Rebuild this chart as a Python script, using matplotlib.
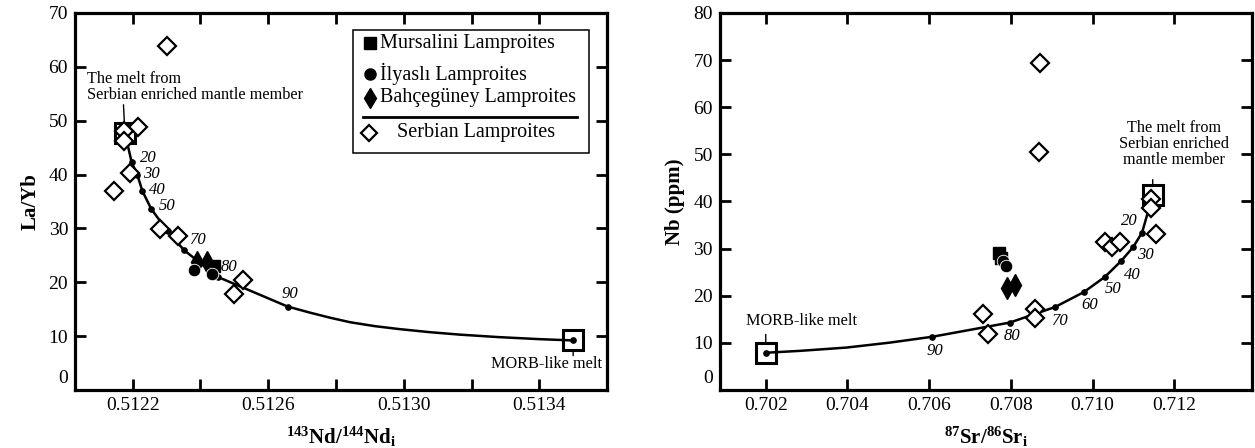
import numpy as np
import matplotlib.pyplot as plt
from matplotlib.patches import Rectangle
from matplotlib.transforms import ScaledTranslation

plt.rcParams['font.family'] = ['Liberation Serif', 'DejaVu Serif']
plt.rcParams['mathtext.fontset'] = 'custom'
plt.rcParams['mathtext.rm'] = 'Liberation Serif'
plt.rcParams['mathtext.it'] = 'Liberation Serif:italic'
plt.rcParams['mathtext.bf'] = 'Liberation Serif:bold'

# ---- left panel: La/Yb vs 143Nd/144Nd ----
serb_nd = [0.51230, 0.512217, 0.512174, 0.512174, 0.512191, 0.512145,
           0.512280, 0.512333, 0.512527, 0.512498]
serb_layb = [63.9, 48.8, 48.0, 46.2, 40.3, 36.9, 29.8, 28.6, 20.4, 17.8]
bah_nd = [0.512391, 0.512420]
bah_layb = [23.7, 23.7]
mur_nd = [0.512439]
mur_layb = [23.1]
ily_nd = [0.512380, 0.512434]
ily_layb = [22.3, 21.5]

# mixing curve (enriched melt -> MORB-like melt)
mix_nd = [0.512177, 0.512197, 0.512214, 0.512229, 0.512255, 0.512303,
          0.512351, 0.512451, 0.512657, 0.512724, 0.512782, 0.512841,
          0.512915, 0.512988, 0.513076, 0.513165, 0.513282, 0.513400, 0.5135]
mix_layb = [47.8, 42.3, 39.9, 36.9, 33.6, 29.5, 26.0, 21.0, 15.5, 14.35,
            13.43, 12.59, 11.85, 11.30, 10.74, 10.28, 9.81, 9.44, 9.2]
dot_nd = [0.512197, 0.512214, 0.512229, 0.512255, 0.512303, 0.512351,
          0.512451, 0.512657, 0.5135]
dot_layb = [42.3, 39.9, 36.9, 33.6, 29.5, 26.0, 21.0, 15.5, 9.2]
dot_lab1 = ['20', '30', '40', '50', '', '70', '80', '90', '']
lab_off1 = [(11.7, 2.9), (10, 0.5), (11, 1), (11.5, 2.4), (0, 0), (10, 7.2),
            (8, 7.2), (2, 8.8), (0, 0)]
melt1 = (0.512177, 47.8)
morb1 = (0.5135, 9.2)

# ---- right panel: Nb vs 87Sr/86Sr ----
serb_sr = [0.70871, 0.70869, 0.71144, 0.71144, 0.71155, 0.71030, 0.71048,
           0.71067, 0.70731, 0.70743, 0.70860, 0.70860]
serb_nb = [69.4, 50.4, 40.6, 38.6, 33.2, 31.3, 30.4, 31.3, 16.2, 11.8,
           17.2, 15.2]
mur_sr = [0.70771, 0.70775]
mur_nb = [29.0, 28.0]
ily_sr = [0.70781, 0.70789]
ily_nb = [27.3, 26.3]
bah_sr = [0.70791, 0.70809]
bah_nb = [21.6, 22.3]

mix_sr = [0.702, 0.702832, 0.703976, 0.705035, 0.70608, 0.70797, 0.70908,
          0.70979, 0.71030, 0.71069, 0.71099, 0.71121, 0.71147]
mix_nb = [7.9, 8.3, 9.0, 10.05, 11.3, 14.3, 17.6, 20.8, 24.0, 27.3, 30.3,
          33.4, 41.3]
dot_sr = [0.702, 0.70608, 0.70797, 0.70908, 0.70979, 0.71030, 0.71069,
          0.71099, 0.71121]
dot_nb = [7.9, 11.3, 14.3, 17.6, 20.8, 24.0, 27.3, 30.3, 33.4]
dot_lab2 = ['', '90', '80', '70', '60', '50', '40', '30', '20']
lab_off2 = [(0, 0), (1.7, -10.3), (2, -9.6), (3.4, -10.3), (4, -9.6),
            (6, -8.4), (8.4, -9.6), (9, -5.5), (-9, 8.4)]
melt2 = (0.71147, 41.3)
morb2 = (0.702, 7.9)

nd_ticks = [0.5122, 0.5124, 0.5126, 0.5128, 0.5130, 0.5132, 0.5134]
nd_labels = ['0.5122', '', '0.5126', '', '0.5130', '', '0.5134']
sr_ticks = [0.702, 0.704, 0.706, 0.708, 0.710, 0.712]
sr_labels = ['0.702', '0.704', '0.706', '0.708', '0.710', '0.712']

fig = plt.figure(figsize=(12.55, 4.48), dpi=100)
ax1 = fig.add_axes([0.0598, 0.1295, 0.4239, 0.8415])
ax2 = fig.add_axes([0.5737, 0.1295, 0.4239, 0.8415])

diam = dict(marker='D', ms=9, mfc='white', mec='black', mew=1.6, ls='none', zorder=5)
box = dict(marker='s', ms=14.5, mfc='none', mec='black', mew=2.2, ls='none', zorder=4)


def draw_panel(ax, sx, sy, mx, my, ix, iy, bx, by, cx, cy, dx, dy, labs, offs):
    ax.plot(cx, cy, '-', color='black', lw=1.8, zorder=2)
    ax.plot(dx, dy, 'o', color='black', ms=3.8, zorder=3)
    for x, y, t, o in zip(dx, dy, labs, offs):
        if t:
            ax.annotate(t, (x, y), xytext=o, textcoords='offset points',
                        ha='center', va='center', fontsize=12, style='italic')
    ax.plot(sx, sy, **diam)
    ax.plot(bx, by, 'd', color='black', ms=11, zorder=6)
    ax.plot(mx, my, 's', color='black', ms=8.5, zorder=6)
    ax.plot(ix, iy, 'o', color='black', ms=9, mec='white', mew=0.6, zorder=7)


draw_panel(ax1, serb_nd, serb_layb, mur_nd, mur_layb, ily_nd, ily_layb,
           bah_nd, bah_layb, mix_nd, mix_layb, dot_nd, dot_layb, dot_lab1, lab_off1)
draw_panel(ax2, serb_sr, serb_nb, mur_sr, mur_nb, ily_sr, ily_nb,
           bah_sr, bah_nb, mix_sr, mix_nb, dot_sr, dot_nb, dot_lab2, lab_off2)

# end-member boxes and notes
for ax, m in [(ax1, melt1), (ax1, morb1), (ax2, melt2), (ax2, morb2)]:
    ax.plot([m[0]], [m[1]], **box)

lead = dict(arrowstyle='-', lw=1.0, color='black', shrinkA=0, shrinkB=7.5)
ax1.annotate('', melt1, xytext=(-1, 20), textcoords='offset points', arrowprops=lead)
ax1.annotate('The melt from\nSerbian enriched mantle member', melt1,
             xytext=(-27.6, 44.5), textcoords='offset points',
             ha='left', va='top', fontsize=11.7, linespacing=1.0)
ax1.annotate('', morb1, xytext=(0, -11), textcoords='offset points', arrowprops=lead)
ax1.annotate('MORB-like melt', morb1, xytext=(-19.5, -17), textcoords='offset points',
             ha='center', va='center', fontsize=11.7)

ax2.annotate('', melt2, xytext=(0, 11.3), textcoords='offset points', arrowprops=lead)
ax2.annotate('The melt from\nSerbian enriched\nmantle member', melt2,
             xytext=(15.3, 54.5), textcoords='offset points',
             ha='center', va='top', fontsize=11.7, linespacing=1.0)
ax2.annotate('', morb2, xytext=(0, 13.2), textcoords='offset points', arrowprops=lead)
ax2.annotate('MORB-like melt', morb2, xytext=(26, 23), textcoords='offset points',
             ha='center', va='center', fontsize=11.7)

# legend drawn by hand (with separator line)
ax1.add_patch(Rectangle((0.522, 0.629), 0.445, 0.326, transform=ax1.transAxes,
                        fill=False, lw=1.1, zorder=8))
leg_rows = [('s', 'Mursalini Lamproites', 0.920, 8, 'black'),
            ('o', 'İlyaslı Lamproites', 0.838, 8, 'black'),
            ('d', 'Bahçegüney Lamproites', 0.775, 10, 'black')]
for mk, txt, yy, ms, c in leg_rows:
    ax1.plot([0.555], [yy], mk, color=c, ms=ms, transform=ax1.transAxes, zorder=9)
    ax1.text(0.573, yy, txt, transform=ax1.transAxes, va='center', fontsize=14.5)
ax1.plot([0.541, 0.944], [0.724, 0.724], '-', color='black', lw=2,
         transform=ax1.transAxes)
ax1.plot([0.553], [0.682], **dict(diam, transform=ax1.transAxes, ms=8.5))
ax1.text(0.605, 0.682, 'Serbian Lamproites', transform=ax1.transAxes,
         va='center', fontsize=14.5)

# axes
ax1.set_xlim(0.51203, 0.5136)
ax1.set_ylim(0, 70)
ax1.set_xticks(nd_ticks)
ax1.set_xticklabels(nd_labels)
ax1.set_yticks(range(0, 80, 10))
ax1.set_xlabel(r'$\mathbf{^{143}Nd/^{144}Nd_i}$', fontsize=15, labelpad=8)
ax1.set_ylabel('La/Yb', fontsize=15, fontweight='bold', labelpad=6)

ax2.set_xlim(0.70088, 0.7139)
ax2.set_ylim(0, 80)
ax2.set_xticks(sr_ticks)
ax2.set_xticklabels(sr_labels)
ax2.set_yticks(range(0, 90, 10))
ax2.set_xlabel(r'$\mathbf{^{87}Sr/^{86}Sr_i}$', fontsize=15, labelpad=8)
ax2.set_ylabel('Nb (ppm)', fontsize=15, fontweight='bold', labelpad=6)

for ax in (ax1, ax2):
    for s in ax.spines.values():
        s.set_linewidth(2.3)
    ax.tick_params(direction='in', length=8, width=2, top=True, right=True,
                   labelsize=14, pad=5)
    # the zero label sits a bit above the bottom spine in the original
    lab = ax.get_yticklabels()[0]
    lab.set_transform(lab.get_transform() + ScaledTranslation(0, 10 / 72, fig.dpi_scale_trans))

fig.savefig('out.png', dpi=100)
